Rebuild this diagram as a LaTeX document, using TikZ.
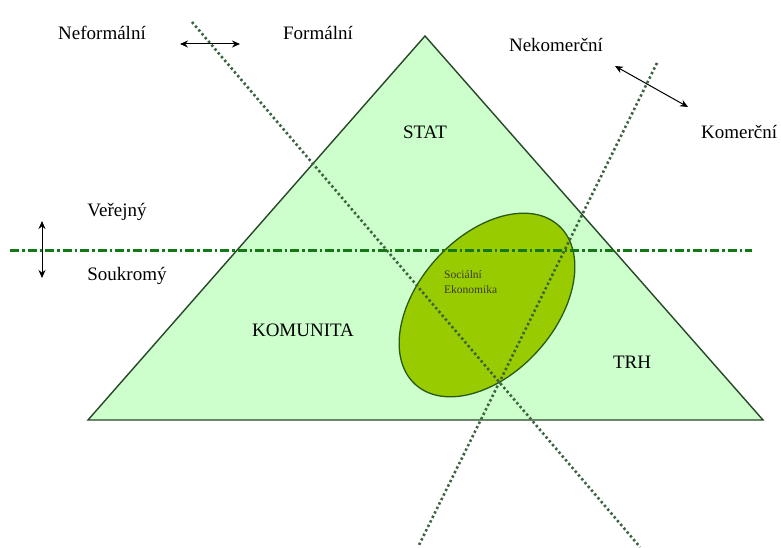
\documentclass[tikz,border=0pt]{standalone}
\usepackage{fontspec}
\setmainfont{Liberation Serif}
\usetikzlibrary{arrows.meta,shapes.geometric}
\definecolor{trifill}{RGB}{204,255,204}
\definecolor{triedge}{RGB}{40,70,40}
\definecolor{ellfill}{RGB}{153,204,0}
\definecolor{elledge}{RGB}{40,90,20}
\definecolor{dotline}{RGB}{60,100,65}
\definecolor{dashline}{RGB}{20,120,20}
\tikzset{
  lbl/.style={font=\fontsize{19}{21}\selectfont, inner sep=0pt},
  biarrow/.style={{Stealth[length=8pt,width=7pt]}-{Stealth[length=8pt,width=7pt]}, line width=1pt},
  divide/.style={dotline, line width=2.6pt, dash pattern=on 2.4pt off 2.6pt},
}
\begin{document}
\begin{tikzpicture}[x=1pt,y=-1pt]
\useasboundingbox (0,0) rectangle (781,548);
\coordinate (apex) at (425,36);
\coordinate (bl) at (88,420);
\coordinate (br) at (763,420);
\filldraw[fill=trifill, draw=triedge, line width=1.4pt] (apex) -- (bl) -- (br) -- cycle;
\node[ellipse, draw=elledge, fill=ellfill, line width=1.3pt, minimum width=214pt, minimum height=137pt, inner sep=0pt, rotate=48] (soc) at (487,305) {};
\coordinate (h1) at (10,250);
\coordinate (h2) at (752,250);
\draw[dashline, line width=3pt, dash pattern=on 9pt off 3pt on 2.5pt off 3pt] (h1) -- (h2);
\coordinate (f1) at (192,22);
\coordinate (f2) at (640,547);
\coordinate (k1) at (657,63);
\coordinate (k2) at (418,547);
\draw[divide] (f1) -- (f2);
\draw[divide] (k1) -- (k2);
\node[lbl] (nef) at (102,33) {Neformální};
\node[lbl] (form) at (318,33) {Formální};
\node[lbl] (nekom) at (556,45) {Nekomerční};
\node[lbl, anchor=west] (kom) at (701,132) {Komerční};
\node[lbl] (ver) at (117,212) {Veřejný};
\node[lbl] (souk) at (127,276) {Soukromý};
\node[lbl] (stat) at (425,132) {STAT};
\node[lbl] (komun) at (303,330) {KOMUNITA};
\node[lbl] (trh) at (632,362) {TRH};
\node[font=\fontsize{11.5}{15}\selectfont, text=black!75!olive, align=left, inner sep=0pt, anchor=north west] (soctxt) at (444,270) {Sociální\\Ekonomika};
\coordinate (a1) at (180,44);
\coordinate (a2) at (240,44);
\coordinate (b1) at (615,66);
\coordinate (b2) at (688,107);
\coordinate (c1) at (42,221);
\coordinate (c2) at (42,278);
\draw[biarrow] (a1) -- (a2);
\draw[biarrow] (b1) -- (b2);
\draw[biarrow] (c1) -- (c2);
\end{tikzpicture}
\end{document}
